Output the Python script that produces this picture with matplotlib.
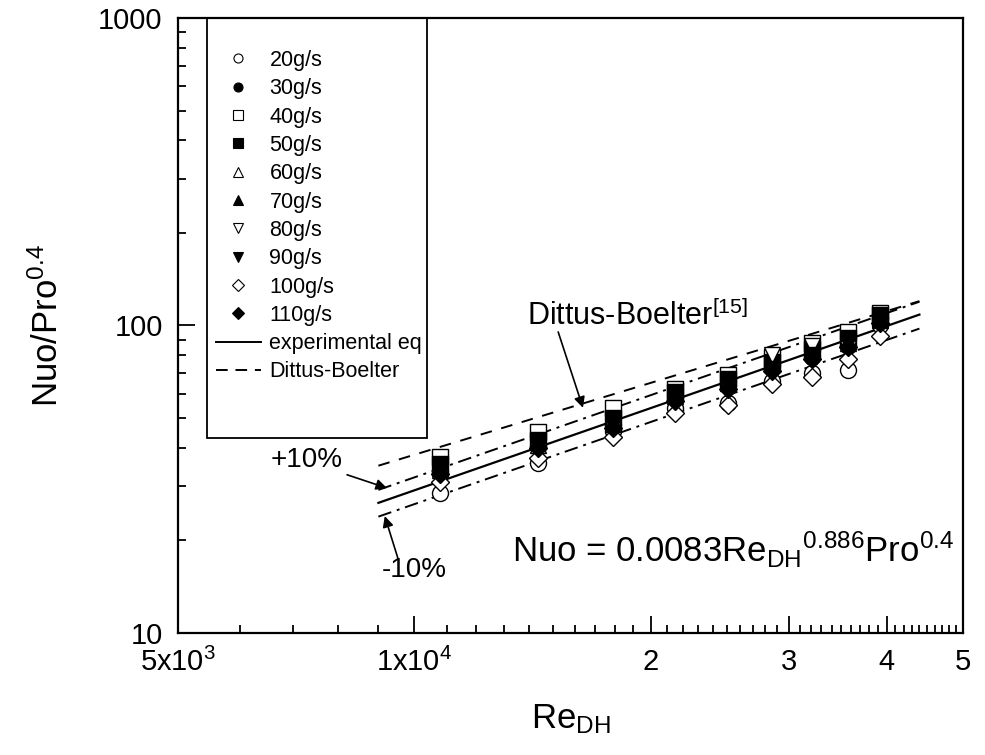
import matplotlib
matplotlib.use("Agg")
import matplotlib.pyplot as plt
from matplotlib.lines import Line2D
from matplotlib.patches import Rectangle
from matplotlib.ticker import FixedLocator, FixedFormatter, NullFormatter

plt.rcParams["font.family"] = ["Liberation Sans", "DejaVu Sans"]
plt.rcParams["mathtext.fontset"] = "custom"
plt.rcParams["mathtext.rm"] = "Liberation Sans"
plt.rcParams["mathtext.it"] = "Liberation Sans"
plt.rcParams["mathtext.bf"] = "Liberation Sans:bold"

# Reynolds number of each data cluster
re_dh = [10790, 14370, 17900, 21500, 25100, 28550, 32100, 35700, 39200]

# Nuo/Pro^0.4 read for each mass flow rate
labels = ["20g/s", "30g/s", "40g/s", "50g/s", "60g/s",
          "70g/s", "80g/s", "90g/s", "100g/s", "110g/s"]
nu_20 = [28.5, 35.7, 45.5, 54, 56, 66, 70, 71.6, 100]
nu_30 = [33.5, 40.5, 47.5, 58, 64, 74, 79, 86, 106]
nu_40 = [37.3, 45, 54, 62, 69, 79, 88, 95, 110]
nu_50 = [35.5, 42.5, 50, 61, 67, 76, 84, 91, 108]
nu_60 = [34, 41, 48, 59, 65, 75, 82, 88, 104]
nu_70 = [34.5, 42, 49, 60, 66, 76, 83, 89, 105]
nu_80 = [32, 39, 46, 56, 63, 80, 86, 84, 99]
nu_90 = [33, 40, 47, 57, 64, 72, 80, 87, 103]
nu_100 = [31, 37, 43.5, 52, 55, 64.5, 68, 78, 92.5]
nu_110 = [33, 40, 46.5, 57, 62, 71, 78, 85, 102]
series = [nu_20, nu_30, nu_40, nu_50, nu_60, nu_70, nu_80, nu_90, nu_100, nu_110]

markers = ["o", "o", "s", "s", "^", "^", "v", "v", "D", "D"]
filled = [False, True, False, True, False, True, False, True, False, True]

# correlation lines, end points
line_re = [9000, 44000]
exp_eq = [26.5, 108.5]
exp_plus = [29.2, 119.5]
exp_minus = [23.9, 97.7]
dittus = [35.0, 120.0]

fig = plt.figure(figsize=(9.85, 7.55), dpi=100)
ax = fig.add_axes([178/985, 1-633/755, 785/985, 615/755])

for vals, m, f in zip(series, markers, filled):
    ms = 9.5 if m == "D" else 11.5
    ax.plot(re_dh, vals, linestyle="none", marker=m, markersize=ms,
            mfc="black" if f else "white", mec="black", mew=1.0, zorder=3)

ax.plot(line_re, exp_eq, color="black", lw=1.6, ls="-")
ax.plot(line_re, exp_plus, color="black", lw=1.4, ls=(0, (7, 3, 1.5, 3)))
ax.plot(line_re, exp_minus, color="black", lw=1.4, ls=(0, (7, 3, 1.5, 3)))
ax.plot(line_re, dittus, color="black", lw=1.4, ls=(0, (6, 5)))

ax.set_xscale("log")
ax.set_yscale("log")
ax.set_xlim(5000, 50000)
ax.set_ylim(10, 1000)

# ticks
xmaj = [5000, 10000, 20000, 30000, 40000, 50000]
xlab = [r"5x10$^3$", r"1x10$^4$", "2", "3", "4", "5"]
xmin = [6000, 7000, 8000, 9000] + [v * 1000 for v in range(11, 50) if v % 10 != 0]
ax.xaxis.set_major_locator(FixedLocator(xmaj))
ax.xaxis.set_major_formatter(FixedFormatter(xlab))
ax.xaxis.set_minor_locator(FixedLocator(xmin))
ax.xaxis.set_minor_formatter(NullFormatter())
ax.yaxis.set_major_locator(FixedLocator([10, 100, 1000]))
ax.yaxis.set_major_formatter(FixedFormatter(["10", "100", "1000"]))
ax.yaxis.set_minor_locator(FixedLocator([v * 10 for v in range(2, 10)] + [v * 100 for v in range(2, 10)]))
ax.yaxis.set_minor_formatter(NullFormatter())
ax.tick_params(which="both", direction="in", top=False, right=False, width=1.3)
ax.tick_params(which="major", length=12, labelsize=21, pad=11)
ax.tick_params(which="minor", length=6)
for s in ax.spines.values():
    s.set_linewidth(1.6)

ax.set_xlabel(r"Re$_{\mathrm{DH}}$", fontsize=25, labelpad=18)
ax.set_ylabel(r"Nuo/Pro$^{0.4}$", fontsize=25, labelpad=24)

# legend with tall box
box = Rectangle((0.037, 0.317), 0.28, 0.683, transform=ax.transAxes,
                fill=False, edgecolor="black", lw=1.3, zorder=5)
ax.add_patch(box)
handles = []
for lab, m, f in zip(labels, markers, filled):
    handles.append(Line2D([], [], linestyle="none", marker=m, markersize=6.5 if m != "D" else 6,
                          mfc="black" if f else "white", mec="black", mew=0.8, label=lab))
handles.append(Line2D([], [], color="black", lw=1.4, ls="-", label="experimental eq"))
handles.append(Line2D([], [], color="black", lw=1.4, ls=(0, (6, 4)), label="Dittus-Boelter"))
ax.legend(handles=handles, loc="upper left", bbox_to_anchor=(0.037, 0.962),
          frameon=False, fontsize=15.5, handlelength=2.1, handletextpad=0.4,
          labelspacing=0.34, borderaxespad=0.0)

# annotations
arrow = dict(arrowstyle="-|>", color="black", lw=1.2, mutation_scale=16, shrinkA=0, shrinkB=0)
ax.annotate("", xy=(9230, 29.6), xytext=(8210, 32.7), arrowprops=arrow)
ax.text(7300, 36.5, "+10%", fontsize=20, ha="center", va="center")
ax.annotate("", xy=(9170, 24.0), xytext=(9530, 17.5), arrowprops=arrow)
ax.text(10000, 16.0, "-10%", fontsize=20, ha="center", va="center")
ax.annotate("", xy=(16400, 54.0), xytext=(15250, 95.3), arrowprops=arrow)
ax.text(13900, 100.4, r"Dittus-Boelter$^{[15]}$", fontsize=22, ha="left", va="baseline")
ax.text(13300, 18.6, r"Nuo = 0.0083Re$_{\mathrm{DH}}$${}^{0.886}$Pro$^{0.4}$",
        fontsize=25, ha="left", va="center")

fig.savefig("out.png", dpi=100)
